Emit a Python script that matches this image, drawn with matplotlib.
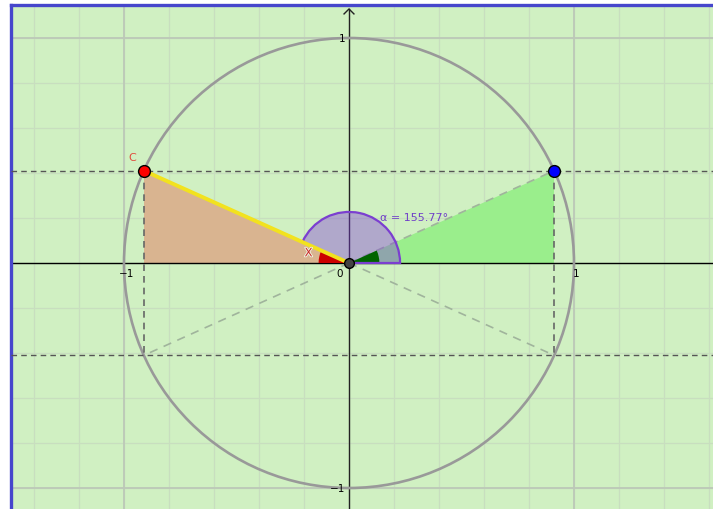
import matplotlib.pyplot as plt
import matplotlib.patheffects as pe
import numpy as np
from matplotlib.patches import Polygon, Wedge, Circle

# angle of point C on the unit circle (degrees)
ALPHA_DEG = 155.77
RADIUS = 1.0
ANGLE_ARC_R = 0.227
SMALL_ARC_R = 0.135

# view window (data units)
XLIM = (-1.5044, 1.6178)
YLIM = (-1.0933, 1.1489)

# axis tick labels
X_TICKS = [-1, 1]
Y_TICKS = [-1, 1]

BG = "#d0f0c2"

a = np.radians(ALPHA_DEG)
cx, cy = RADIUS * np.cos(a), RADIUS * np.sin(a)      # point C
bx, by = -cx, cy                                     # mirrored blue point

fig = plt.figure(figsize=(7.13, 5.10), dpi=100)
ax = fig.add_axes([10.5 / 713, 0, 1 - 10.5 / 713, 1 - 5.5 / 510])
ax.set_facecolor(BG)
ax.set_xlim(*XLIM)
ax.set_ylim(*YLIM)

# grid: minor every 0.2, major every 1
for v in np.arange(-1.4, 1.61, 0.2):
    ax.axvline(v, color="#c8debf", lw=0.9, zorder=0)
for v in np.arange(-1.0, 1.11, 0.2):
    ax.axhline(v, color="#c8debf", lw=0.9, zorder=0)
for v in [-1, 1]:
    ax.axvline(v, color="#bcc8b8", lw=1.3, zorder=0)
    ax.axhline(v, color="#bcc8b8", lw=1.3, zorder=0)

# filled triangles
ax.add_patch(Polygon([[cx, cy], [cx, 0], [0, 0]], closed=True,
                     facecolor="#d9b490", edgecolor="none", zorder=1))
ax.add_patch(Polygon([[0, 0], [bx, 0], [bx, by]], closed=True,
                     facecolor="#9aee8c", edgecolor="none", zorder=1))

# axes lines
ax.axhline(0, color="black", lw=1.0, zorder=2)
ax.plot([0, 0], [YLIM[0], 1.129], color="#222222", lw=1.0, zorder=2)
ax.plot([-0.022, 0, 0.022], [1.107, 1.129, 1.107], color="#222222", lw=1.0, zorder=2)

# unit circle
ax.add_patch(Circle((0, 0), RADIUS, fill=False, edgecolor="#999999", lw=1.9, zorder=3))

# dashed guides
ax.axhline(cy, color="#555555", lw=1.0, ls=(0, (4, 3)), zorder=3)
ax.axhline(-cy, color="#555555", lw=1.0, ls=(0, (4, 3)), zorder=3)
ax.plot([cx, cx], [cy, -cy], color="#666666", lw=1.2, ls=(0, (4, 3)), zorder=3)
ax.plot([bx, bx], [by, -by], color="#666666", lw=1.2, ls=(0, (4, 3)), zorder=3)
for px, py in [(bx, by), (bx, -by), (cx, -cy)]:
    ax.plot([0, px], [0, py], color="#a0b49c", lw=1.2, ls=(0, (5, 4)), zorder=3)

# angle alpha
ax.add_patch(Wedge((0, 0), ANGLE_ARC_R, 0, ALPHA_DEG, facecolor="#803cdb", alpha=0.4,
                   edgecolor="none", zorder=4))
ax.add_patch(Wedge((0, 0), ANGLE_ARC_R, 0, ALPHA_DEG, fill=False, edgecolor="#7b3fd0",
                   lw=1.6, zorder=6))
ax.add_patch(Wedge((0, 0), SMALL_ARC_R, ALPHA_DEG, 180, facecolor="#cc0000",
                   edgecolor="none", zorder=5))
ax.add_patch(Wedge((0, 0), SMALL_ARC_R, 0, 180 - ALPHA_DEG, facecolor="#006400",
                   edgecolor="none", zorder=5))

# segment OC
ax.plot([cx, 0], [cy, 0], color="#f2e21e", lw=2.8, solid_capstyle="butt", zorder=6)

# points
ax.plot(cx, cy, "o", ms=8.5, mfc="#ff0000", mec="black", mew=1.0, zorder=8)
ax.plot(bx, by, "o", ms=8.5, mfc="#0000ff", mec="black", mew=1.0, zorder=8)
ax.plot(0, 0, "o", ms=7, mfc="#444444", mec="black", mew=1.0, zorder=8)

# labels
ax.text(cx - 0.05, cy + 0.04, "C", color="#e04c3c", fontsize=8, ha="center", va="bottom",
        zorder=9)
ax.text(-0.18, 0.045, "X", color="#cc2a2a", fontsize=8.5, ha="center", va="center", zorder=9,
        path_effects=[pe.withStroke(linewidth=1.3, foreground="#eef8e8")])
ax.text(0.14, 0.205, "α = 155.77°", color="#7040c8", fontsize=8, ha="left", va="center",
        zorder=9)

for v in X_TICKS:
    ax.text(v + 0.01, -0.02, "−1" if v < 0 else "1", fontsize=7.5, ha="center",
            va="top", zorder=9)
ax.text(-0.04, -0.02, "0", fontsize=7.5, ha="center", va="top", zorder=9)
for v in Y_TICKS:
    ax.text(-0.015, v, "−1" if v < 0 else "1", fontsize=7.5, ha="right", va="center", zorder=9)

ax.set_xticks([])
ax.set_yticks([])
for side in ["right", "bottom"]:
    ax.spines[side].set_visible(False)
for side in ["left", "top"]:
    ax.spines[side].set_color("#4646cc")
    ax.spines[side].set_linewidth(2.4)

fig.savefig("out.png", dpi=100, facecolor="white")
